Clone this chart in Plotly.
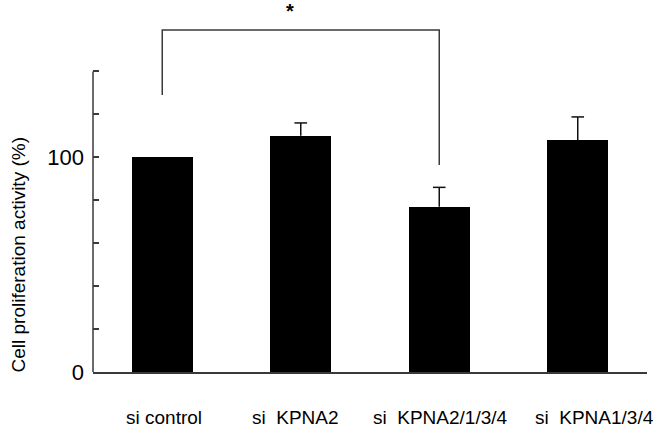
import plotly.graph_objects as go

# values
groups = ["si control", "si  KPNA2", "si  KPNA2/1/3/4", "si  KPNA1/3/4"]
activity = [100, 110, 77, 108]
sem = [0, 6, 9, 10.8]

tick_vals = [0, 20, 40, 60, 80, 100, 120, 140]
tick_text = ["0", "", "", "", "", "100", "", ""]

# significance bracket between si control and si KPNA2/1/3/4
bracket_x = [0, 0, 2, 2]
bracket_y = [129, 159.3, 159.3, 96.4]
star_label = "*"

FONT = "Liberation Sans, Arial, sans-serif"
INK = "#3a3a3a"

fig = go.Figure()

fig.add_trace(
    go.Bar(
        x=list(range(len(groups))),
        y=activity,
        width=0.44,
        marker=dict(color="black", line=dict(width=0)),
        showlegend=False,
    )
)

# upper-only error whiskers (plotly's own error bars always put a cap on the bar top)
wx, wy, cx, cy = [], [], [], []
for i, (v, s) in enumerate(zip(activity, sem)):
    if s > 0:
        wx += [i, i, None]
        wy += [v, v + s, None]
        cx.append(i)
        cy.append(v + s)

fig.add_trace(
    go.Scatter(
        x=wx, y=wy, mode="lines",
        line=dict(color="#111111", width=1.5),
        showlegend=False, hoverinfo="skip",
    )
)
fig.add_trace(
    go.Scatter(
        x=cx, y=cy, mode="markers",
        marker=dict(symbol="line-ew", size=9, line=dict(color="#111111", width=1.5)),
        showlegend=False, hoverinfo="skip",
    )
)

fig.add_trace(
    go.Scatter(
        x=bracket_x,
        y=bracket_y,
        mode="lines",
        line=dict(color=INK, width=1.5),
        showlegend=False,
        hoverinfo="skip",
    )
)

# star above the bracket
fig.add_annotation(
    x=0.92, y=168, xref="x", yref="y",
    text=f"<b>{star_label}</b>", showarrow=False,
    font=dict(family=FONT, size=20, color="black"),
    yanchor="middle",
)

# category labels under the axis
label_shift = [2, -5, 1, 17]
for i, g in enumerate(groups):
    fig.add_annotation(
        x=i, y=0, xref="x", yref="paper",
        text=g.replace("  ", " \u00a0"), showarrow=False,
        font=dict(family=FONT, size=19, color="black"),
        xshift=label_shift[i], yshift=-45, yanchor="middle",
    )

# y axis title
fig.add_annotation(
    x=0, y=0.5, xref="paper", yref="paper",
    text="Cell proliferation activity (%)", showarrow=False, textangle=-90,
    font=dict(family=FONT, size=19, color="black"),
    xshift=-75, yshift=-66, xanchor="center", yanchor="middle",
)

# y axis line stops at 140
fig.add_shape(
    type="line", xref="paper", yref="y",
    x0=0, x1=0, y0=0, y1=140,
    line=dict(color=INK, width=1.5),
)

fig.update_layout(
    width=659,
    height=432,
    margin=dict(l=93, r=12, t=7, b=60),
    paper_bgcolor="white",
    plot_bgcolor="white",
    font=dict(family=FONT, color="black"),
    showlegend=False,
    bargap=0,
)
fig.update_xaxes(
    range=[-0.5, 3.5],
    showline=True, linecolor=INK, linewidth=1.5,
    showgrid=False, zeroline=False,
    showticklabels=False, ticks="",
)
fig.update_yaxes(
    range=[0, 170],
    tickmode="array", tickvals=tick_vals, ticktext=tick_text,
    ticks="inside", ticklen=6, tickwidth=1.5, tickcolor=INK,
    tickfont=dict(family=FONT, size=22, color="black"),
    ticklabelstandoff=8,
    showline=False, showgrid=False, zeroline=False,
)

fig.write_html(
    "out.html",
    config={"displayModeBar": False},
    post_script="document.body.style.margin='0';",
)
